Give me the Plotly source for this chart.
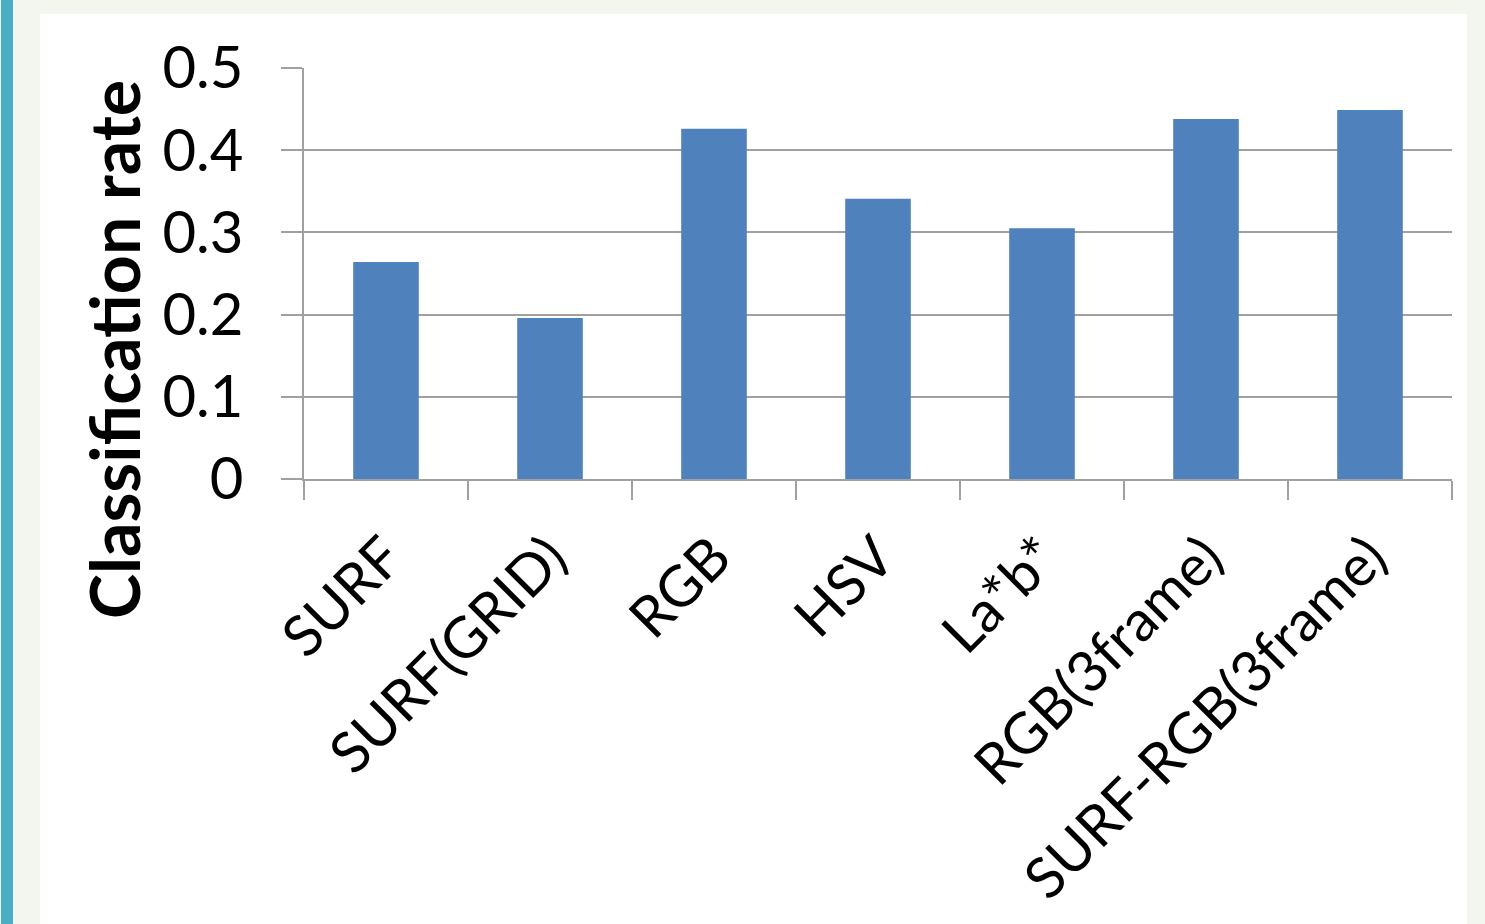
import plotly.graph_objects as go

categories = ["SURF", "SURF(GRID)", "RGB", "HSV", "La*b*", "RGB(3frame)", "SURF-RGB(3frame)"]
rates = [0.264, 0.196, 0.426, 0.341, 0.305, 0.438, 0.449]
y_ticks = [0, 0.1, 0.2, 0.3, 0.4, 0.5]
y_tick_text = ["0", "0.1", "0.2", "0.3", "0.4", "0.5"]
y_title = "Classification rate"

FONT = "Lato"
W, H = 1485, 924
L, R, T, B = 304, 33, 68, 445
pw, ph = W - L - R, H - T - B

def px_x(p):
    return (p - L) / pw

def px_y(p):
    return (H - B - p) / ph

fig = go.Figure(go.Bar(
    x=categories, y=rates, width=0.4,
    marker=dict(color="#4f81bd", line=dict(width=0)),
))

fig.update_layout(
    width=W, height=H,
    margin=dict(l=L, r=R, t=T, b=B, autoexpand=False),
    paper_bgcolor="#f3f6ee",
    plot_bgcolor="white",
    showlegend=False,
    font=dict(family=FONT, color="black"),
    shapes=[
        dict(type="rect", xref="paper", yref="paper", layer="below",
             x0=px_x(40), x1=px_x(1467), y0=px_y(924), y1=px_y(14),
             fillcolor="white", line=dict(width=0)),
        dict(type="rect", xref="paper", yref="paper", layer="below",
             x0=px_x(1), x1=px_x(13), y0=px_y(924), y1=px_y(0),
             fillcolor="#4bacc6", line=dict(width=0)),
    ],
    annotations=[
        dict(text="<b>" + y_title + "</b>", textangle=-90, showarrow=False,
             xref="paper", yref="paper", x=px_x(113), y=px_y(350),
             xanchor="center", yanchor="middle",
             font=dict(family=FONT, size=68, color="black")),
    ],
)

fig.update_xaxes(
    type="category", tickson="boundaries", ticks="outside", ticklen=19,
    tickwidth=2, tickcolor="#a0a0a0", showline=True, linecolor="#a0a0a0",
    linewidth=2, showgrid=False, tickangle=-45,
    tickfont=dict(family=FONT, size=57, color="black"),
    ticklabelstandoff=20,
)
fig.update_yaxes(
    range=[0, 0.5], tickvals=y_ticks, ticktext=y_tick_text,
    ticks="outside", ticklen=21, tickwidth=2, tickcolor="#a0a0a0",
    showline=True, linecolor="#a0a0a0", linewidth=2,
    showgrid=True, gridcolor="#a0a0a0", gridwidth=2, zeroline=False,
    tickfont=dict(family=FONT, size=58, color="black"),
    ticklabelstandoff=26,
)

fig.write_html("out.html")
